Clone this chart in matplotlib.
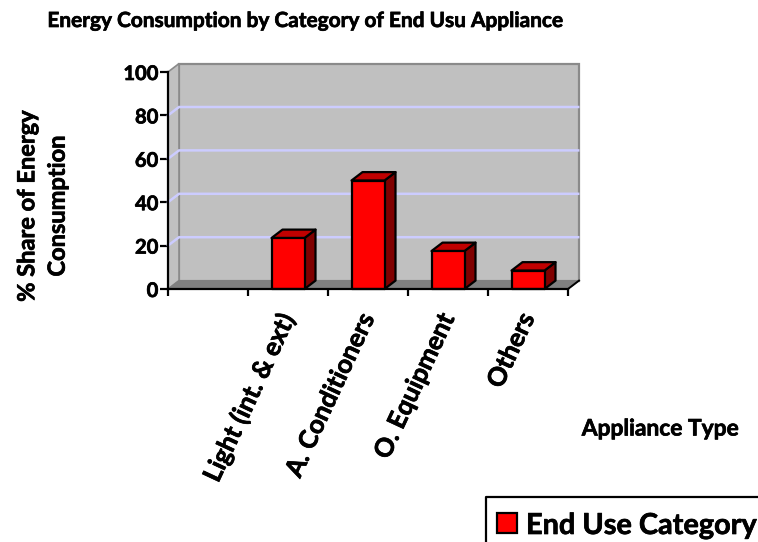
import matplotlib
matplotlib.use("Agg")
import matplotlib.pyplot as plt
import matplotlib.patheffects as pe
from matplotlib.patches import Polygon, Rectangle
from matplotlib.lines import Line2D

plt.rcParams['font.family'] = ['Lato', 'DejaVu Sans']
plt.rcParams['font.weight'] = 'bold'

title = "Energy Consumption by Category of End Usu Appliance"
ylabel = "% Share of Energy\nConsumption"
xlabel = "Appliance Type"
legend_label = "End Use Category"
categories = ["", "Light (int. & ext)", "A. Conditioners", "O. Equipment", "Others"]
values = [None, 23.5, 50, 17.5, 8.5]
yticks = [0, 20, 40, 60, 80, 100]

W, H = 758, 542
fig = plt.figure(figsize=(W/100, H/100), dpi=100, facecolor='white')
ax = fig.add_axes([168/W, 1-289/H, 400/W, 217/H])
ax.set_xlim(0, len(categories))
ax.set_ylim(0, 100)
for s in ['top', 'right']:
    ax.spines[s].set_visible(False)
for s in ['left', 'bottom']:
    ax.spines[s].set_linewidth(1.6)
    ax.spines[s].set_zorder(6)
ax.patch.set_visible(False)

dx, dy = 11/80, 8.4/2.17
n = len(categories)
wall = '#c0c0c0'
# back wall, side wall, floor
ax.add_patch(Polygon([(dx, dy), (n+dx, dy), (n+dx, 100+dy), (dx, 100+dy)], closed=True,
                     fc=wall, ec='#8a8a8a', lw=1.6, clip_on=False, zorder=1))
ax.add_patch(Polygon([(0, 0), (dx, dy), (dx, 100+dy), (0, 100)], closed=True,
                     fc=wall, ec='#8a8a8a', lw=1.2, clip_on=False, zorder=1))
ax.add_patch(Polygon([(0, 0), (n, 0), (n+dx, dy), (dx, dy)], closed=True,
                     fc='#808080', ec='#808080', lw=0.8, clip_on=False, zorder=2))
for t in yticks[1:-1]:
    ax.plot([0, dx, n+dx-0.01], [t, t+dy, t+dy], color='#ccccff', lw=1.8,
            clip_on=False, zorder=2, solid_joinstyle='miter')
ax.plot([n, n+dx], [0, dy], color='black', lw=1.4, clip_on=False, zorder=6)

bw = 33/80
for i, v in enumerate(values):
    if v is None:
        continue
    x0 = i + 0.5 - bw/2
    x1 = x0 + bw
    kw = dict(ec='black', lw=1.6, clip_on=False, zorder=5, joinstyle='round')
    ax.add_patch(Polygon([(x1, 0), (x1+dx, dy), (x1+dx, v+dy), (x1, v)], closed=True, fc='#800000', **kw))
    ax.add_patch(Polygon([(x0, v), (x1, v), (x1+dx, v+dy), (x0+dx, v+dy)], closed=True, fc='#c00000', **kw))
    ax.add_patch(Rectangle((x0, 0), bw, v, fc='#ff0000', **kw))

ax.set_yticks(yticks)
ax.tick_params(axis='y', length=6, width=1.6, pad=1, labelsize=14.5)
ax.set_xticks(range(n+1))
ax.set_xticklabels([])
ax.tick_params(axis='x', length=5, width=1.6, direction='out')

heavy = [pe.withStroke(linewidth=0.5, foreground='black')]
for lab in ax.get_yticklabels():
    lab.set_path_effects(heavy)

for i, c in enumerate(categories):
    if c:
        ax.annotate(c, xy=(i+0.5, 0), xytext=(0, -18), textcoords='offset points',
                    rotation=65, rotation_mode='anchor', ha='right', va='center',
                    fontsize=18.5, fontweight='bold', path_effects=heavy)

fig.text(306/W, 1-21/H, title, ha='center', va='center', fontsize=15, fontweight='bold',
         path_effects=heavy)
fig.text(42/W, 1-206/H, ylabel, ha='center', va='center', rotation=90, fontsize=17,
         fontweight='bold', linespacing=1.39, multialignment='center', path_effects=heavy)
fig.text(660/W, 1-429/H, xlabel, ha='center', va='center', fontsize=16.4, fontweight='bold',
         path_effects=heavy)

# legend box runs off the right and bottom of the picture
fig.add_artist(Line2D([486/W, 486/W, 1], [0, 1-497/H, 1-497/H], color='black', lw=1.6))
fig.add_artist(Rectangle((497/W, 1-532.5/H), 20/W, 20/H, transform=fig.transFigure,
                         fc='#ff0000', ec='black', lw=1.6))
fig.text(526/W, 1-526/H, legend_label, ha='left', va='center', fontsize=20.8, fontweight='bold',
         path_effects=heavy)

fig.savefig('out.png', dpi=100, facecolor='white')
